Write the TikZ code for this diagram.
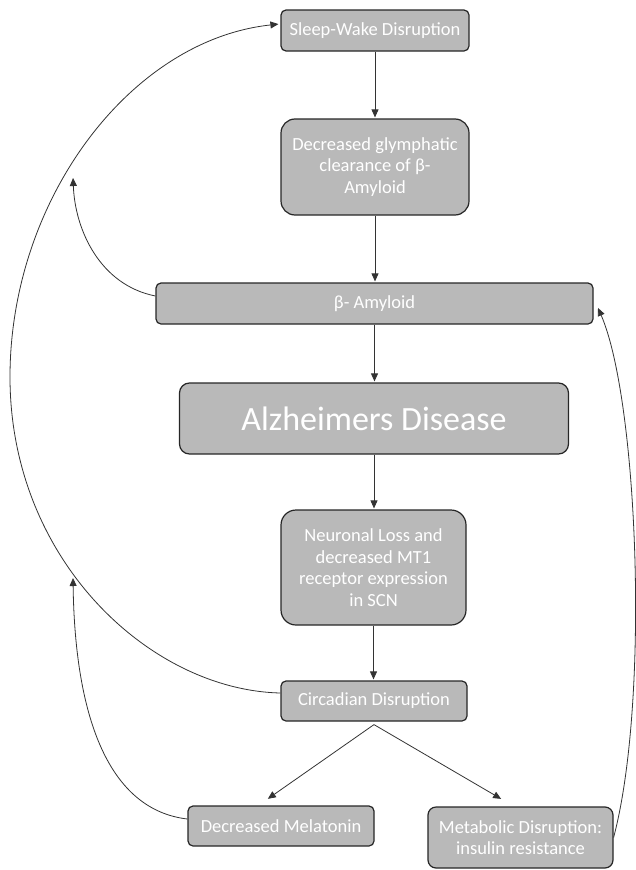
\documentclass[tikz,border=0pt]{standalone}
\usepackage{fontspec}
\setmainfont{Carlito}
\usetikzlibrary{arrows.meta,calc}
\definecolor{boxgray}{HTML}{B9B9B9}
\definecolor{edgec}{HTML}{262626}
\definecolor{wire}{HTML}{333333}
\begin{document}
\begin{tikzpicture}[x=1pt,y=-1pt,
 box/.style={draw=edgec, line width=1.2pt, fill=boxgray, text=white, align=center, inner sep=0pt,
   font=\fontsize{18.5}{21.5}\selectfont},
 conn/.style={draw=wire, line width=0.8pt, -{Triangle[length=8pt,width=7pt]}, shorten >=1pt}]
\useasboundingbox (0,0) rectangle (635,870);

\node[box, rounded corners=5pt, minimum width=188pt, minimum height=41pt] (sw) at (375,30.5) {Sleep-Wake Disruption};
\node[box, rounded corners=14pt, minimum width=188pt, minimum height=96pt] (glym) at (375,167) {Decreased glymphatic\\clearance of β-\\Amyloid};
\node[box, rounded corners=5pt, minimum width=437pt, minimum height=41pt] (amy) at (374.5,303.5) {β- Amyloid};
\node[box, rounded corners=10pt, minimum width=389pt, minimum height=71pt, font=\fontsize{34}{40}\selectfont] (ad) at (374,418.5) {Alzheimers Disease};
\node[box, rounded corners=15pt, minimum width=185pt, minimum height=115pt] (neu) at (373.5,567.5) {Neuronal Loss and\\decreased MT1\\receptor expression\\in SCN};
\node[box, rounded corners=5pt, minimum width=186pt, minimum height=40pt] (circ) at (374,701) {Circadian Disruption};
\node[box, rounded corners=5pt, minimum width=186pt, minimum height=40pt] (mel) at (281,826) {Decreased Melatonin};
\node[box, rounded corners=8pt, minimum width=185pt, minimum height=61pt] (met) at (520.5,837.5) {Metabolic Disruption:\\insulin resistance};

\draw[conn] (sw.south) -- (sw.south |- glym.north);
\draw[conn] (glym.south) -- (glym.south |- amy.north);
\draw[conn] (amy.south) -- (amy.south |- ad.north);
\draw[conn] (ad.south) -- (ad.south |- neu.north);
\draw[conn] (neu.south) -- (neu.south |- circ.north);

\coordinate (br) at ($(circ.south)+(0,3)$);
\draw[conn] (br) -- ($(mel.north)+(-14,-6)$);
\draw[conn] (br) -- ($(met.north)+(-18.5,-7)$);

\coordinate (t1) at (73,177);
\coordinate (t2) at (73,577);
\draw[conn] ($(amy.west)+(0,-7.5)$) .. controls (100,285) and (75,230) .. (t1);
\draw[conn] ($(circ.west)+(0,-8)$) .. controls (150,690) and (10,560) .. (10,377)
   .. controls (10,200) and (130,40) .. ($(sw.west)+(-1,-6.5)$);
\draw[conn] ($(mel.west)+(0,-7)$) .. controls (110,810) and (75,720) .. (t2);
\draw[conn] (met.east) .. controls (650,700) and (638,400) .. ($(amy.east)+(4,3.5)$);
\end{tikzpicture}
\end{document}
